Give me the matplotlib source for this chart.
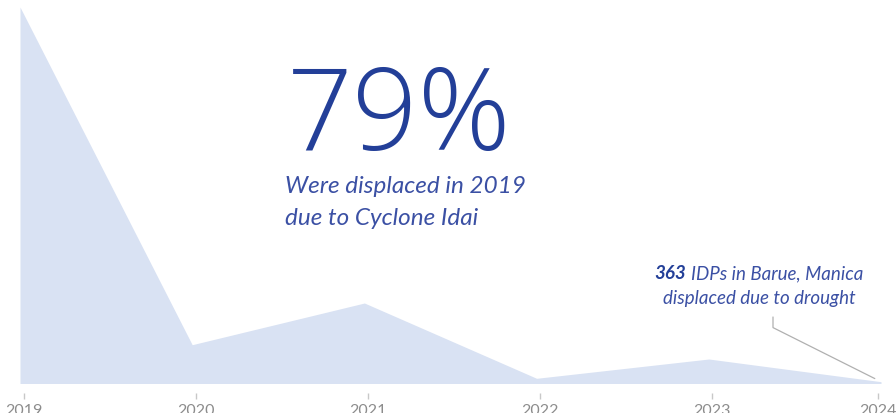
import matplotlib
matplotlib.use('Agg')
import matplotlib.pyplot as plt
from matplotlib.transforms import ScaledTranslation

# displaced people per year (IDPs)
years = [2019, 2020, 2021, 2022, 2023, 2024]
idps = [75300, 7760, 16100, 1040, 4900, 363]
tick_labels = ['2019', '2020', '2021', '2022', '2023', '2024']

fill_col = '#d9e2f3'
dark_blue = '#233f98'
text_blue = '#3b50a4'

plt.rcParams['font.family'] = ['Lato', 'DejaVu Sans']

fig = plt.figure(figsize=(8.96, 4.14), dpi=100)
ax = fig.add_axes([0, 29.5 / 414, 1, 384.5 / 414])

ax.fill_between(years, idps, 0, color=fill_col, lw=0)

ax.set_xlim(2019 - 20 / 172.2, 2024 + 15 / 172.2)
ax.set_ylim(0, idps[0] * 384.5 / 376.5)

for s in ['top', 'right', 'left']:
    ax.spines[s].set_visible(False)
ax.spines['bottom'].set_position(('outward', 7))
ax.spines['bottom'].set_visible(False)
ax.set_yticks([])
ax.set_xticks(years)
ax.set_xticklabels(tick_labels)
ax.tick_params(axis='x', length=4, width=1, color='#c8c8c8', pad=3,
               labelsize=11.5, labelcolor='#8c8c8c')

# nudge ticks a little right, last one back left so its label fits
for i, t in enumerate(ax.xaxis.get_major_ticks()):
    dx = 3.5 if i < len(years) - 1 else -3
    off = ScaledTranslation(dx / 100, 0, fig.dpi_scale_trans)
    t.tick1line.set_transform(t.tick1line.get_transform() + off)
    t.label1.set_transform(t.label1.get_transform() + off)

# headline figure
fig.text(287 / 896, 1 - 150 / 414, '79%', fontsize=83, fontweight='light',
         family=['Open Sans', 'DejaVu Sans'], color=dark_blue, ha='left', va='baseline')
fig.text(285 / 896, 1 - 193 / 414, 'Were displaced in 2019', fontsize=17.5,
         style='italic', color=text_blue, ha='left', va='baseline')
fig.text(285 / 896, 1 - 225 / 414, 'due to Cyclone Idai', fontsize=17.5,
         style='italic', color=text_blue, ha='left', va='baseline')

# 2024 note
fig.text(686 / 896, 1 - 279 / 414, f'{idps[-1]}', fontsize=13.5, style='italic',
         fontweight='bold', color=dark_blue, ha='right', va='baseline')
fig.text(691 / 896, 1 - 279 / 414, 'IDPs in Barue, Manica', fontsize=13.5,
         style='italic', color=text_blue, ha='left', va='baseline')
fig.text(759 / 896, 1 - 304 / 414, 'displaced due to drought', fontsize=13.5,
         style='italic', color=text_blue, ha='center', va='baseline')

ax.annotate('', xy=(years[-1], idps[-1]), xycoords='data',
            xytext=(773, 414 - 318), textcoords='figure pixels',
            arrowprops=dict(arrowstyle='-', color='#b0b0b0', lw=0.9,
                            shrinkA=0, shrinkB=5,
                            connectionstyle='angle,angleA=-90,angleB=153.4,rad=0'))

fig.savefig('out.png', dpi=100)
